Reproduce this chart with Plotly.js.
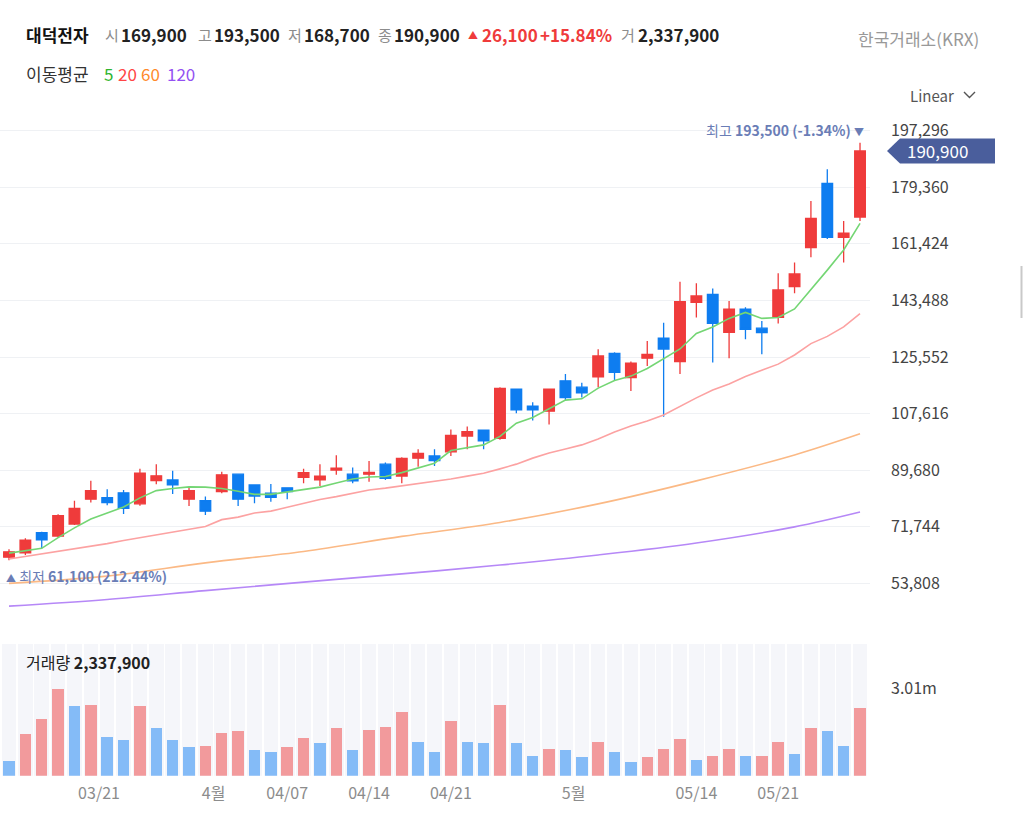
<!DOCTYPE html>
<html><head><meta charset="utf-8">
<script src="https://cdn.plot.ly/plotly-3.0.1.min.js"></script>
<style>html,body{margin:0;padding:0;background:#fff;}#chart{width:1024px;height:829px;}</style>
</head><body><div id="chart"></div>
<script>
// ---- data ----
const open  = [62100,63500,69900,68800,72600,80500,81000,82500,79000,86400,86600,80500,80000,82900,88400,85000,82400,84100,87400,86600,89700,88400,88400,91600,87800,93500,94200,95500,100500,102400,99800,115400,110000,108400,118000,116000,119300,126700,119000,125200,131500,124100,142900,145400,133400,140700,134700,138100,147900,160200,180600,163500,169900];
const high  = [64600,68100,70200,75700,80000,86300,83600,83400,90100,91600,89500,84400,81300,89200,88500,85200,85300,84300,90100,91600,94400,90500,92600,92100,93800,96300,96300,102600,103500,102600,116000,115600,111200,115600,120200,117400,128000,127100,124100,130600,136400,149400,148900,147300,143300,141300,137000,152100,155500,175000,185100,168700,193500];
const low   = [61100,62800,64900,68400,72300,79400,78600,75800,78400,85200,82100,78300,75500,82400,78300,79200,79700,80500,85500,84700,88200,85500,86000,86600,85500,90800,91000,94200,96300,96300,99300,107700,105400,104200,111900,112700,116000,118300,114800,122700,106600,120200,138100,123800,125200,131200,126400,136200,145800,157200,163000,155500,168700];
const close = [63800,67500,67600,75300,77600,83200,79400,77600,88700,87900,85000,83200,76700,88200,80500,81500,81100,82900,88900,87800,90300,86300,89000,87100,93400,95000,92700,100700,101900,99000,115600,108800,108800,115400,112700,114200,125900,120700,123600,126400,128100,143100,144900,136200,140700,134300,133300,146800,151900,169500,163500,164800,190900];
const volume = [515000,1430000,1940000,2980000,2380000,2430000,1320000,1230000,2400000,1630000,1220000,970000,1030000,1480000,1530000,880000,820000,970000,1280000,1120000,1630000,880000,1580000,1680000,2180000,1170000,820000,1880000,1170000,1120000,2430000,1110000,680000,930000,880000,630000,1170000,820000,470000,630000,930000,1270000,530000,680000,930000,670000,690000,1170000,730000,1630000,1530000,1030000,2337900];
const ma5   = [63400,64100,64900,68300,71400,74200,76100,78000,80900,83200,83900,84400,84300,83900,83000,82000,82000,82800,83700,84300,85600,86900,87500,87700,88900,90500,91900,95900,96900,97700,100400,104600,106400,109200,111900,112300,115700,118100,119500,121900,125100,128100,133000,135100,137800,139700,137800,138100,140800,146800,153100,159500,167900];
const ma20  = [61500,62300,63300,64100,64900,65600,66400,67400,68300,69300,70100,70900,71800,74000,74800,76100,76700,77900,79100,80400,81300,82400,83400,84000,84700,85500,86100,86900,87800,88700,90100,91600,93500,95100,96400,97700,99600,101800,103700,105300,107200,110000,112600,115100,117000,119400,121400,123300,126200,129800,132100,135100,139300];
const maLongIdx = [0,6,12,18,24,30,36,42,48,52];
const ma60  = [53800,56100,60300,63900,68700,73100,79000,86300,94500,101200];
const ma120 = [46600,48700,51500,54200,56800,59600,62800,66600,71700,76400];
const priceTicks = [53808,71744,89680,107616,125552,143488,161424,179360,197296];
const volTickVals = [3010000];
const volTickText = ['3.01m'];
const xTickPos  = [5.5,12.5,17,22,27,34.5,42,47];
const xTickText = ['03/21','4월','04/07','04/14','04/21','5월','05/14','05/21'];
const stockName = '대덕전자';
const exchange = '한국거래소(KRX)';

// ---- helpers ----
const W = 1024, H = 829;
const px = v => v / W, py = v => 1 - v / H;
const fmt = v => Math.round(v).toLocaleString('en-US');
const idx = close.map((_, i) => i);
const RED = '#ef3b3b', BLUE = '#0e7df0';
const FONT = '"Noto Sans CJK KR","Noto Sans",sans-serif';

const PRICE_TOP_PX = 112, PRICE_BOT_PX = 610;
const priceRange = [45358, 203224];
const VOL_TOP_PX = 644, VOL_BOT_PX = 775.7;
const volMax = 4520000;
const unitsPerPx = (priceRange[1] - priceRange[0]) / (PRICE_BOT_PX - PRICE_TOP_PX);

const volColors = volume.map((v, i) => (i > 0 && v >= volume[i - 1]) ? '#f29a9c' : '#84bbf7');

const n = close.length;
const last = close[n - 1];
const prev = close[n - 2];
const chg = last - prev;
const chgPct = chg / prev * 100;
let hiIdx = 0, loIdx = 0;
high.forEach((v, i) => { if (v > high[hiIdx]) hiIdx = i; });
low.forEach((v, i) => { if (v < low[loIdx]) loIdx = i; });
const hi = high[hiIdx], lo = low[loIdx];
const hiPct = (last - hi) / hi * 100, loPct = (last - lo) / lo * 100;

const traces = [
  {type:'bar', x:idx, y:idx.map(() => volMax), xaxis:'x', yaxis:'y2', width:0.89, marker:{color:'#f5f6fa'}, hoverinfo:'skip'},
  {type:'bar', x:idx, y:volume, xaxis:'x', yaxis:'y2', width:0.7, marker:{color:volColors}, hoverinfo:'skip'},
  {type:'candlestick', x:idx, open:open, high:high, low:low, close:close, xaxis:'x', yaxis:'y',
   increasing:{line:{color:RED, width:1.3}, fillcolor:RED},
   decreasing:{line:{color:BLUE, width:1.3}, fillcolor:BLUE}, whiskerwidth:0, hoverinfo:'skip'},
  {type:'scatter', mode:'lines', x:maLongIdx, y:ma120, line:{color:'#b688f7', width:1.6, shape:'spline'}, hoverinfo:'skip'},
  {type:'scatter', mode:'lines', x:maLongIdx, y:ma60, line:{color:'#fbb985', width:1.6, shape:'spline'}, hoverinfo:'skip'},
  {type:'scatter', mode:'lines', x:idx, y:ma20, line:{color:'#fca2a2', width:1.6}, hoverinfo:'skip'},
  {type:'scatter', mode:'lines', x:idx, y:ma5, line:{color:'#74d674', width:1.6}, hoverinfo:'skip'}
];

function txt(text, x, y, color, size, extra) {
  return Object.assign({text:text, x:px(x), y:py(y), xref:'paper', yref:'paper', xanchor:'left', yanchor:'middle',
    showarrow:false, font:{family:FONT, size:size || 17, color:color || '#222'}}, extra || {});
}
const GRAY = '#8c8c8c', DARK = '#222';
const annotations = [
  txt('<b>' + stockName + '</b>', 24, 35, '#111', 17),
  txt('시', 103, 35, GRAY, 15), txt('<b>' + fmt(open[n-1]) + '</b>', 119, 35, DARK, 17),
  txt('고', 196, 35, GRAY, 15), txt('<b>' + fmt(high[n-1]) + '</b>', 212, 35, DARK, 17),
  txt('저', 286, 35, GRAY, 15), txt('<b>' + fmt(low[n-1]) + '</b>', 302, 35, DARK, 17),
  txt('종', 376, 35, GRAY, 15), txt('<b>' + fmt(last) + '</b>', 392, 35, DARK, 17),
  txt('▲', 466, 35, RED, 10), txt('<b>' + fmt(chg) + '</b>', 480, 35, RED, 17),
  txt('<b>+' + chgPct.toFixed(2) + '%</b>', 538, 35, RED, 17),
  txt('거', 619, 35, GRAY, 15), txt('<b>' + fmt(volume[n-1]) + '</b>', 636, 35, DARK, 17),
  txt(exchange, 981, 38, '#999', 17, {xanchor:'right'}),
  txt('이동평균', 24, 73, '#333', 17), txt('5', 102, 73, '#2fb52f', 17), txt('20', 116, 73, '#ff4545', 17),
  txt('60', 139, 73, '#ff8a2a', 17), txt('120', 165, 73, '#9350f2', 17),
  txt('Linear', 908, 95, '#555', 15),
  txt('거래량 <b>' + fmt(volume[n-1]) + '</b>', 24, 662, '#222', 16),
  // last price tag text
  {text:fmt(last), x:px(905), y:last, xref:'paper', yref:'y', xanchor:'left', yanchor:'middle', showarrow:false,
   font:{family:FONT, size:17, color:'#fff'}},
  // highest / lowest
  {text:'최고 <b>' + fmt(hi) + ' (' + hiPct.toFixed(2) + '%)</b> <span style="font-size:10px">▼</span>', x:hiIdx, y:hi, xref:'x', yref:'y',
   xanchor:'right', yanchor:'bottom', xshift:6, yshift:1, showarrow:false, font:{family:FONT, size:14, color:'#6a7db6'}},
  {text:'<span style="font-size:10px">▲</span> 최저 <b>' + fmt(lo) + ' (' + loPct.toFixed(2) + '%)</b>', x:loIdx, y:lo, xref:'x', yref:'y',
   xanchor:'left', yanchor:'top', xshift:-5, yshift:-4, showarrow:false, font:{family:FONT, size:14, color:'#6a7db6'}}
];

const half = 12.5 * unitsPerPx;
const tagPath = 'M ' + px(887) + ',' + last + ' L ' + px(900) + ',' + (last + half) + ' L ' + px(995) + ',' + (last + half) +
  ' L ' + px(995) + ',' + (last - half) + ' L ' + px(900) + ',' + (last - half) + ' Z';

const shapes = [
  {type:'path', xref:'paper', yref:'y', path:tagPath, fillcolor:'#4a5e9c', line:{width:0}},
  {type:'path', xref:'paper', yref:'paper', path:'M ' + px(964) + ',' + py(92) + ' L ' + px(969.5) + ',' + py(97.5) + ' L ' + px(975) + ',' + py(92),
   line:{color:'#555', width:1.4}},
  {type:'line', xref:'paper', yref:'paper', x0:px(1021.5), x1:px(1021.5), y0:py(266), y1:py(318), line:{color:'#c9c9c9', width:2}}
];

const layout = {
  width:W, height:H, margin:{l:0, r:0, t:0, b:0}, paper_bgcolor:'#fff', plot_bgcolor:'rgba(0,0,0,0)',
  showlegend:false, barmode:'overlay', bargap:0, boxgap:0.35, boxgroupgap:0,
  font:{family:FONT, color:'#333'},
  xaxis:{domain:[0, px(870)], range:[-0.55, 52.61], anchor:'y2', tickmode:'array', tickvals:xTickPos, ticktext:xTickText,
    showgrid:false, zeroline:false, showline:false, ticks:'', tickfont:{family:FONT, size:16, color:'#8c8c8c'},
    rangeslider:{visible:false}, fixedrange:true, ticklabelstandoff:6},
  yaxis:{domain:[py(PRICE_BOT_PX), py(PRICE_TOP_PX)], range:priceRange, side:'right', anchor:'x', tickmode:'array',
    tickvals:priceTicks, ticktext:priceTicks.map(fmt), showgrid:true, gridcolor:'#eff1f4', gridwidth:1, zeroline:false,
    showline:false, ticks:'', tickfont:{family:FONT, size:16, color:'#444'}, ticklabelstandoff:20, fixedrange:true},
  yaxis2:{domain:[py(VOL_BOT_PX), py(VOL_TOP_PX)], range:[0, volMax], side:'right', anchor:'x', tickmode:'array',
    tickvals:volTickVals, ticktext:volTickText, showgrid:false, zeroline:false, showline:false, ticks:'',
    tickfont:{family:FONT, size:16, color:'#444'}, ticklabelstandoff:20, fixedrange:true},
  annotations:annotations, shapes:shapes
};

Plotly.newPlot('chart', traces, layout, {staticPlot:true, displayModeBar:false});
</script>
</body></html>
